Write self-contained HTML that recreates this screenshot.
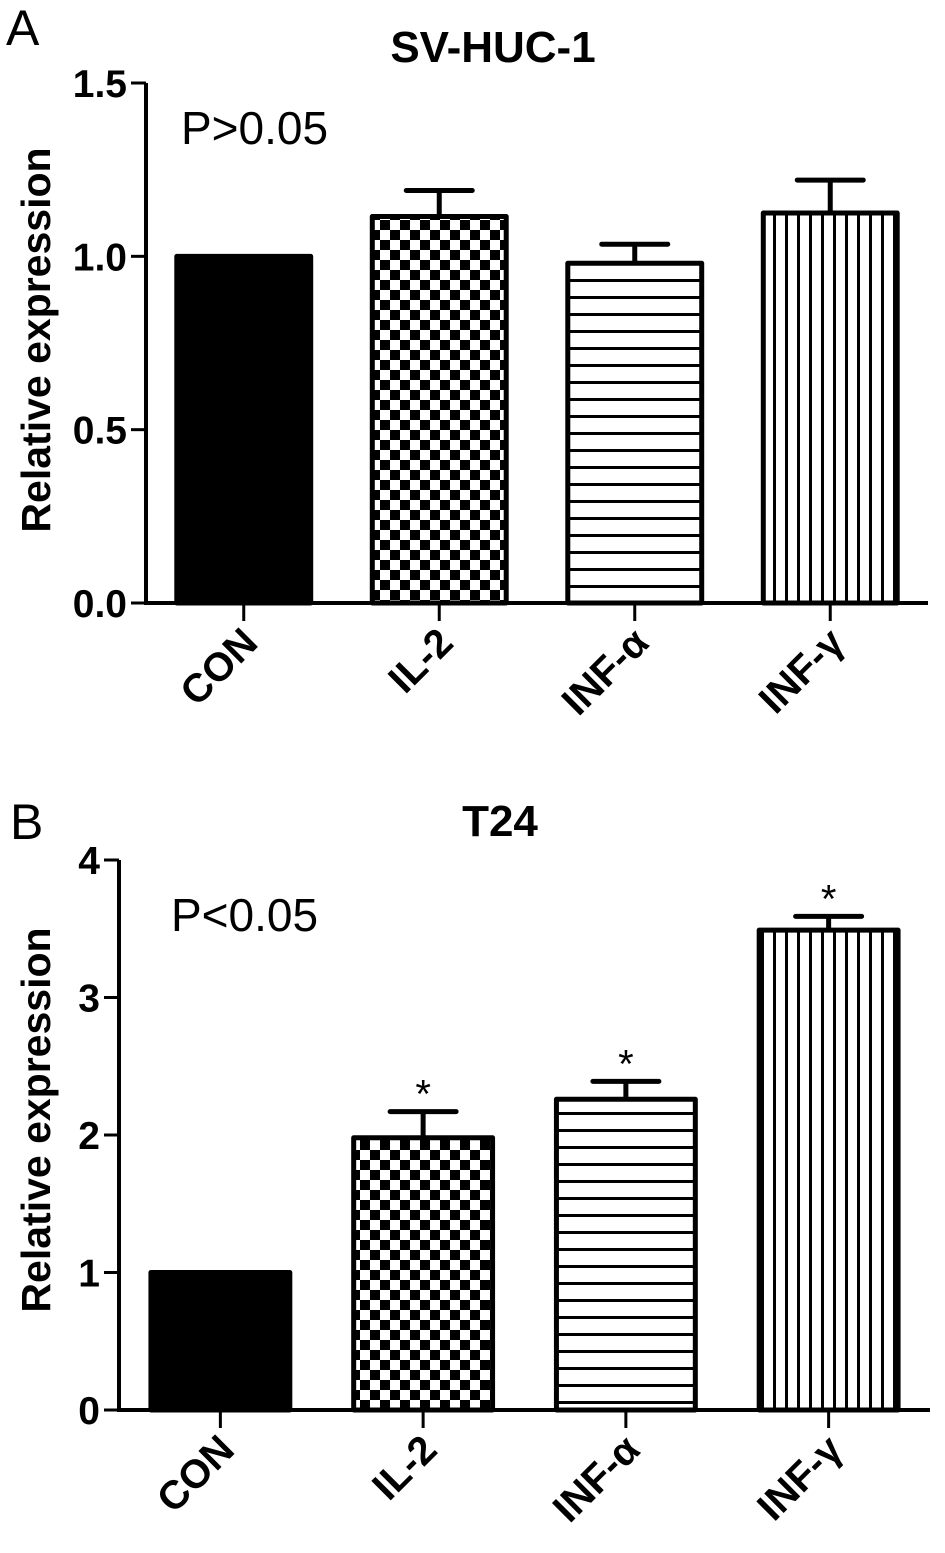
<!DOCTYPE html>
<html><head><meta charset="utf-8"><style>
body{margin:0;background:#fff}
svg{display:block;font-family:"Liberation Sans",Arial,sans-serif}
</style></head><body>
<svg id="s" width="945" height="1553" viewBox="0 0 945 1553" xmlns="http://www.w3.org/2000/svg">
<defs>
<pattern id="checker" patternUnits="userSpaceOnUse" width="20" height="20"><rect width="20" height="20" fill="#fff"/><rect width="10" height="10" fill="#000"/><rect x="10" y="10" width="10" height="10" fill="#000"/></pattern>
<pattern id="hlines" patternUnits="userSpaceOnUse" width="17" height="17"><rect width="17" height="17" fill="#fff"/><rect y="7" width="17" height="3" fill="#000"/></pattern>
<pattern id="vlines" patternUnits="userSpaceOnUse" width="12" height="12"><rect width="12" height="12" fill="#fff"/><rect x="5" width="3" height="12" fill="#000"/></pattern>
</defs>
<text x="6" y="45" font-size="50">A</text>
<text x="10" y="839" font-size="50">B</text>
</svg>
<script>
const categories = ["CON","IL-2","INF-\u03b1","INF-\u03b3"];
const valuesA = [1.0, 1.115, 0.98, 1.125];
const errorsA = [0.0, 0.075, 0.055, 0.095];
const ticksA = [0, 0.5, 1.0, 1.5];
const tickLabelsA = ["0.0","0.5","1.0","1.5"];
const valuesB = [1.0, 1.98, 2.26, 3.49];
const errorsB = [0.0, 0.19, 0.13, 0.1];
const ticksB = [0, 1, 2, 3, 4];
const tickLabelsB = ["0","1","2","3","4"];
const starsB = [false, true, true, true];

const NS = "http://www.w3.org/2000/svg";
const svg = document.getElementById('s');
function mk(tag, attrs, parent){
  const e = document.createElementNS(NS, tag);
  for (const k in attrs) e.setAttribute(k, attrs[k]);
  (parent||svg).appendChild(e); return e;
}
const fills = ["#000","url(#checker)","url(#hlines)","url(#vlines)"];

function chart(cfg){
  const g = mk('g', {});
  
  
  const y = v => cfg.y0 - (v - cfg.min) / (cfg.max - cfg.min) * (cfg.y0 - cfg.y1);
  const step = (cfg.x1 - cfg.x0) / categories.length;
  const xc = i => cfg.x0 + step * (i + 0.5);
  const bw = step * 0.685;
  const t = mk('text', {x: cfg.titleX, y: cfg.titleY, 'font-size': 44, 'font-weight': 'bold', 'text-anchor': 'middle'}, g);
  
  
  t.textContent = cfg.title;
  cfg.values.forEach((v, i) => {
    const top = y(v + cfg.errors[i]);
    if (cfg.errors[i] > 0) {
      const el = mk('path', {d: `M${xc(i)} ${y(v)} V${top} M${xc(i)-33} ${top} H${xc(i)+33}`, stroke: '#000', 'stroke-width': 5, 'stroke-linecap':'round', fill: 'none'}, g);
      
      
    }
    const r = mk('rect', {x: xc(i) - bw/2, y: y(v), width: bw, height: y(cfg.min) - y(v), fill: fills[i], stroke: '#000', 'stroke-width': 5, 'stroke-linejoin':'round'}, g);
    
    
    if (cfg.stars && cfg.stars[i]) {
      const s = mk('text', {x: xc(i), y: top - 4, 'font-size': 40, 'text-anchor': 'middle'}, g);
      
      
      s.textContent = '*';
    }
    const tk = mk('line', {x1: xc(i), x2: xc(i), y1: cfg.y0, y2: cfg.y0 + 18, stroke: '#000', 'stroke-width': 3}, g);
    
    
    const lx = xc(i) + 16, ly = cfg.y0 + 42;
    const lb = mk('text', {x: lx, y: ly, 'font-size': 40, 'font-weight': 'bold', 'text-anchor': 'end', transform: `rotate(-45 ${lx} ${ly})`}, g);
    
    
    lb.textContent = categories[i];
  });
  const ax = mk('path', {d: `M${cfg.x0} ${cfg.y1} V${cfg.y0} H${cfg.x1}`, stroke: '#000', 'stroke-width': 4, fill: 'none'}, g);
  
  
  cfg.ticks.forEach((tv, i) => {
    const l = mk('line', {x1: cfg.x0 - 15, x2: cfg.x0, y1: y(tv), y2: y(tv), stroke: '#000', 'stroke-width': 3}, g);
    
    
    const tl = mk('text', {x: cfg.x0 - 19, y: y(tv) + 14, 'font-size': 39, 'font-weight': 'bold', 'text-anchor': 'end'}, g);
    
    
    tl.textContent = cfg.tickLabels[i];
  });
  const cy = cfg.ytY;
  const yt = mk('text', {x: 50, y: cy, 'font-size': 41, 'font-weight': 'bold', 'text-anchor': 'middle', transform: `rotate(-90 50 ${cy})`}, g);
  
  
  yt.textContent = 'Relative expression';
  const p = mk('text', {x: cfg.px, y: cfg.py, 'font-size': 46}, g);
  
  
  p.textContent = cfg.ptext;
}

chart({name:'chart-sv-huc-1', title:'SV-HUC-1', titleX:493, titleY:62, values:valuesA, errors:errorsA,
  ticks:ticksA, tickLabels:tickLabelsA, min:0, max:1.5, x0:146, x1:928, y0:603, y1:83, ytY:340,
  ptext:'P>0.05', px:181, py:144});
chart({name:'chart-t24', title:'T24', titleX:500, titleY:836, values:valuesB, errors:errorsB, stars:starsB,
  ticks:ticksB, tickLabels:tickLabelsB, min:0, max:4, x0:119, x1:930, y0:1410, y1:860, ytY:1120,
  ptext:'P<0.05', px:171, py:931});
</script>
</body></html>
